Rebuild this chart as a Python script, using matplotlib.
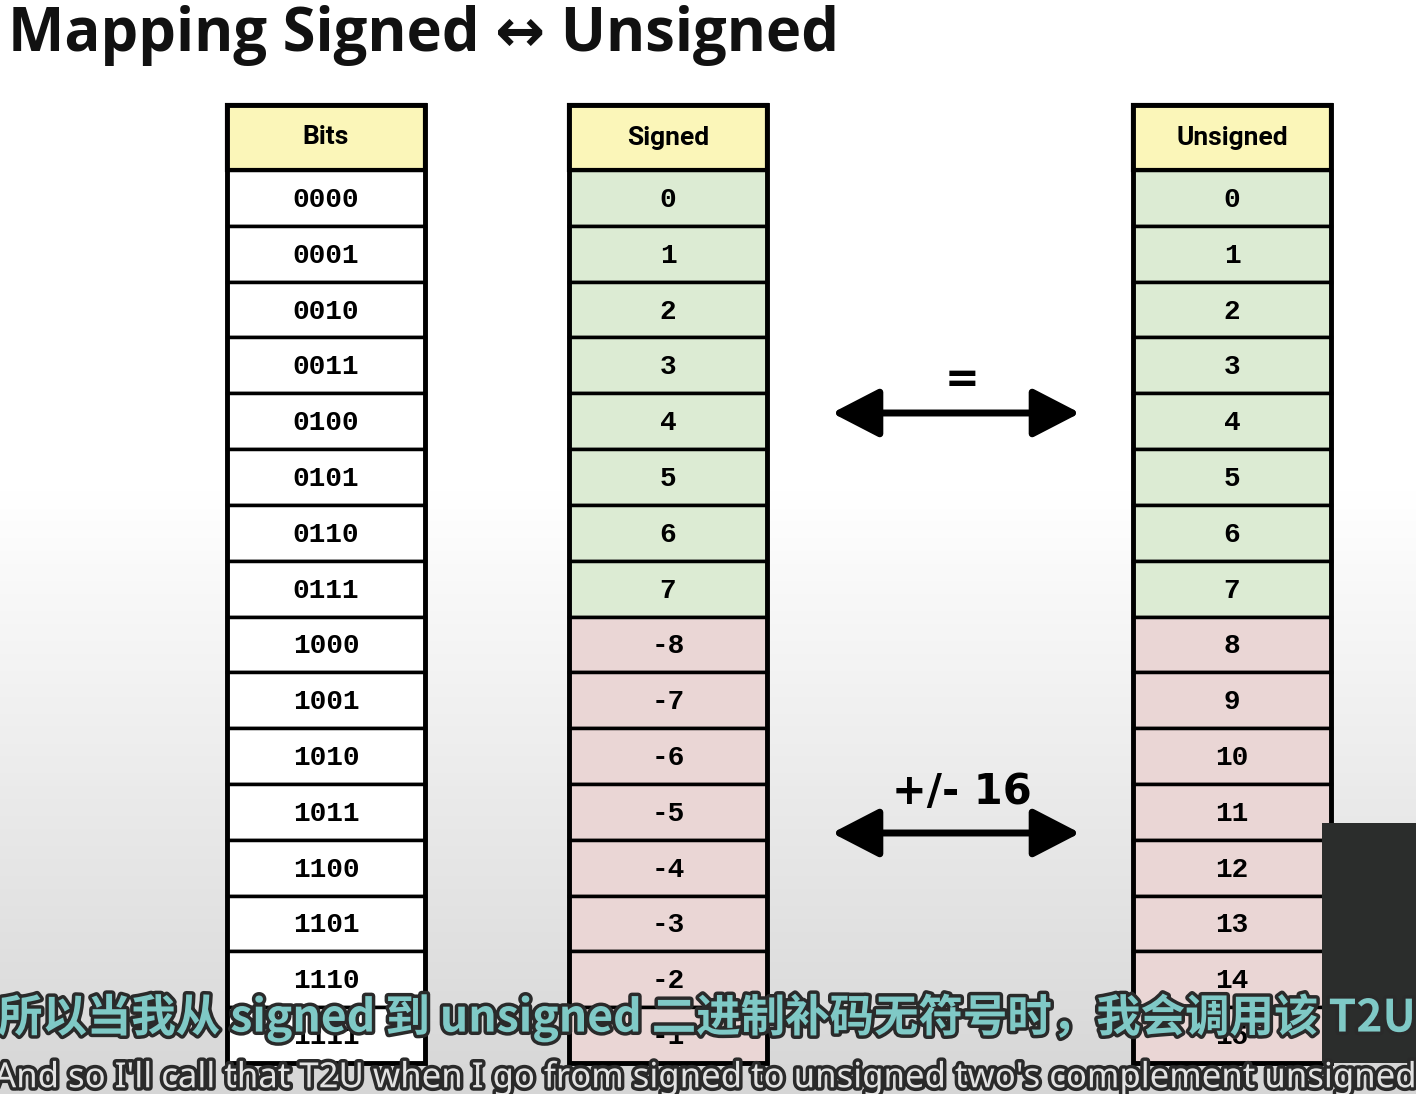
import matplotlib.pyplot as plt
import matplotlib.patheffects as pe
import numpy as np

plt.rcParams["font.family"] = ["Noto Sans CJK SC", "DejaVu Sans"]

bits = ["0000", "0001", "0010", "0011", "0100", "0101", "0110", "0111",
        "1000", "1001", "1010", "1011", "1100", "1101", "1110", "1111"]
signed = ["0", "1", "2", "3", "4", "5", "6", "7",
          "-8", "-7", "-6", "-5", "-4", "-3", "-2", "-1"]
unsigned = [str(v) for v in range(16)]
headers = ["Bits", "Signed", "Unsigned"]
col_left = [227, 569, 1133]

W, H = 1416, 1094
COL_W = 198
HEAD_TOP, HEAD_BOT = 105, 170
ROW_H = (1063 - HEAD_BOT) / 16
YELLOW = "#fbf6b9"
GREEN = "#dcebd3"
PINK = "#ead6d5"

fig = plt.figure(figsize=(W / 100, H / 100), dpi=100)
ax = fig.add_axes([0, 0, 1, 1])
ax.set_xlim(0, W)
ax.set_ylim(H, 0)
ax.axis("off")

# slide background fades to grey towards the bottom
grad = np.linspace(0, 1, 256)[:, None]
grad = np.clip((grad - 0.45) / 0.55, 0, 1)
bg = 1.0 - 0.16 * grad
ax.imshow(np.dstack([bg, bg, bg]), extent=(0, W, H, 0), aspect="auto", zorder=0)

ax.text(8, 35, "Mapping Signed \u2194 Unsigned", fontsize=43, fontweight="bold",
        family=["Open Sans", "DejaVu Sans"], va="center", ha="left", color="#111111")


def draw_column(x0, title, values, colored):
    ax.add_patch(plt.Rectangle((x0, HEAD_TOP), COL_W, HEAD_BOT - HEAD_TOP,
                               facecolor=YELLOW, edgecolor="black", lw=3, zorder=2))
    ax.text(x0 + COL_W / 2, (HEAD_TOP + HEAD_BOT) / 2, title, fontsize=19,
            fontweight="bold", ha="center", va="center", family=["Roboto", "DejaVu Sans"], zorder=3)
    for i, v in enumerate(values):
        y = HEAD_BOT + i * ROW_H
        fc = "white"
        if colored:
            fc = GREEN if i < 8 else PINK
        ax.add_patch(plt.Rectangle((x0, y), COL_W, ROW_H, facecolor=fc,
                                   edgecolor="black", lw=2.5, zorder=2))
        ax.text(x0 + COL_W / 2, y + ROW_H / 2 + 2, v, fontsize=20, fontweight="bold",
                family=["Liberation Mono", "DejaVu Sans Mono"], ha="center", va="center", zorder=3)
    ax.add_patch(plt.Rectangle((x0, HEAD_TOP), COL_W, HEAD_BOT + 16 * ROW_H - HEAD_TOP,
                               facecolor="none", edgecolor="black", lw=3.5, zorder=4))


draw_column(col_left[0], headers[0], bits, False)
draw_column(col_left[1], headers[1], signed, True)
draw_column(col_left[2], headers[2], unsigned, True)

for y, label, ly in [(413, "=", 380), (833, "+/- 16", 792)]:
    ax.annotate("", xy=(1080, y), xytext=(832, y),
                arrowprops=dict(arrowstyle="<|-|>,head_length=2.9,head_width=1.5",
                                color="black", lw=5, shrinkA=0, shrinkB=0), zorder=3)
    ax.text(962, ly, label, fontsize=30, fontweight="bold", ha="center", va="center",
            family=["DejaVu Sans"], zorder=3)

# video inset in the corner
ax.add_patch(plt.Rectangle((1322, 823), 94, 240, facecolor="#2b2d2c", edgecolor="none", zorder=5))

outline = [pe.withStroke(linewidth=5, foreground="#2a2a2a")]
ax.text(-2, 1018, "所以当我从 signed 到 unsigned 二进制补码无符号时，我会调用该 T2U",
        fontsize=32, fontweight="bold", color="#7fc9c6", ha="left", va="center",
        path_effects=outline, zorder=6)
ax.text(-6, 1078, "And so I'll call that T2U when I go from signed to unsigned two's complement unsigned",
        fontsize=25, fontweight="bold", color="#e2e2e2", ha="left", va="center",
        family=["Noto Sans", "DejaVu Sans"], path_effects=outline, zorder=6)

fig.savefig("out.png", dpi=100)
